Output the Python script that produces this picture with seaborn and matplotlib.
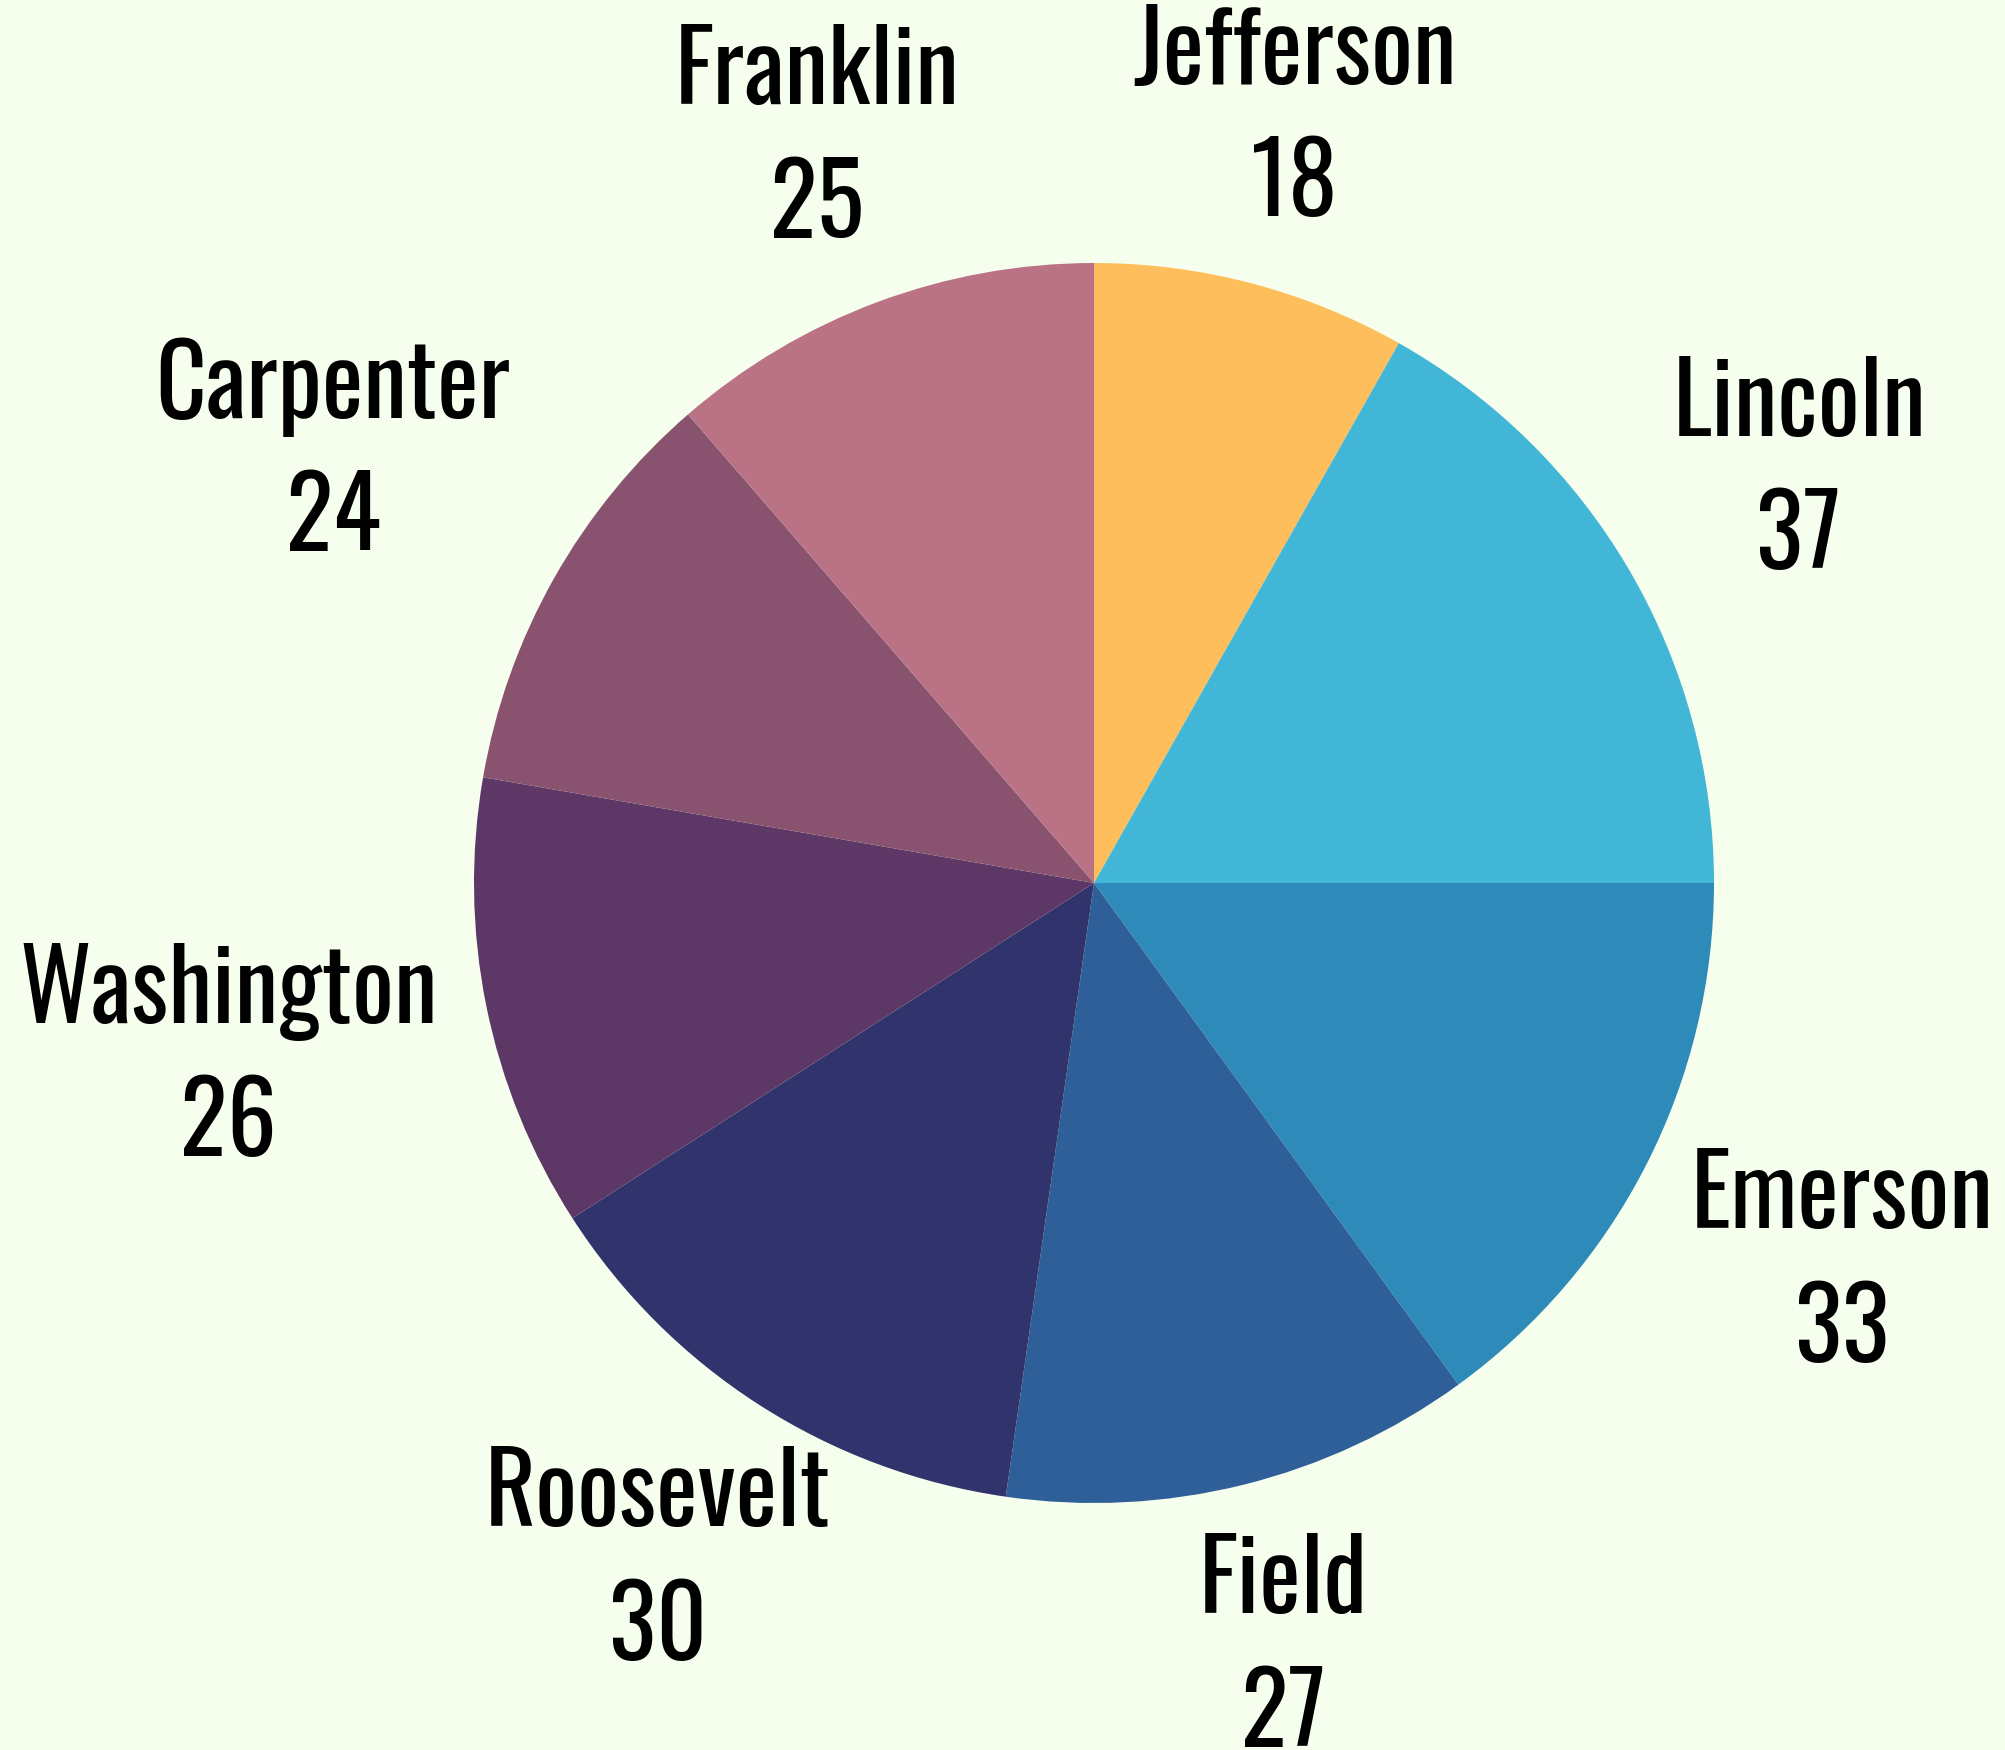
import numpy as np
import pandas as pd
import seaborn as sns
import matplotlib.pyplot as plt
from matplotlib import font_manager as fm

names=['Jefferson','Lincoln','Emerson','Field','Roosevelt','Washington','Carpenter','Franklin']
values=[18,37,33,27,30,26,24,25]
colors=['#FFBE5C','#42B6D6','#2E8BB9','#2F5F98','#31346C','#5D3765','#895370','#B97385']
bg='#F6FEEE'

df=pd.DataFrame({'name':names,'value':values})
labels=[f"{n}\n{v}" for n,v in zip(df['name'],df['value'])]

sns.set_theme(style='white')
have={f.name for f in fm.fontManager.ttflist}
font='Oswald' if 'Oswald' in have else ('Fira Sans Extra Condensed' if 'Fira Sans Extra Condensed' in have else 'DejaVu Sans')
plt.rcParams['font.family']=[font,'DejaVu Sans']

fig=plt.figure(figsize=(20.06,17.5),dpi=100,facecolor=bg)
# pie radius 620px, centre at (1094, 883) from top-left
R=620
half=1.6
W,H=2006,1750
cx,cy=1094,H-883
ax=fig.add_axes([(cx-half*R)/W,(cy-half*R)/H,2*half*R/W,2*half*R/H])
ax.set_facecolor(bg)

wedges,texts=ax.pie(df['value'],labels=labels,colors=colors,startangle=90,counterclock=False,
                    labeldistance=1.2,wedgeprops=dict(linewidth=0),
                    textprops=dict(fontsize=71,linespacing=1.42,color='black'))
ax.set_xlim(-half,half)
ax.set_ylim(-half,half)
ax.axis('off')

# push each label out so its nearest edge sits just outside the pie
fig.canvas.draw()
r0=1.08
for w,t in zip(wedges,texts):
    t.set_ha('center'); t.set_va('center')
    ang=np.deg2rad((w.theta1+w.theta2)/2)
    t.set_position((0,0))
    bb=t.get_window_extent(renderer=fig.canvas.get_renderer())
    hw,hh=bb.width/2/R,bb.height/2/R
    c,s=abs(np.cos(ang)),abs(np.sin(ang))
    d=min(hw/c if c>1e-6 else 1e9,hh/s if s>1e-6 else 1e9)
    t.set_position(((r0+d)*np.cos(ang),(r0+d)*np.sin(ang)))
    t.set_clip_on(False)

fig.savefig('out.png',dpi=100,facecolor=bg)
